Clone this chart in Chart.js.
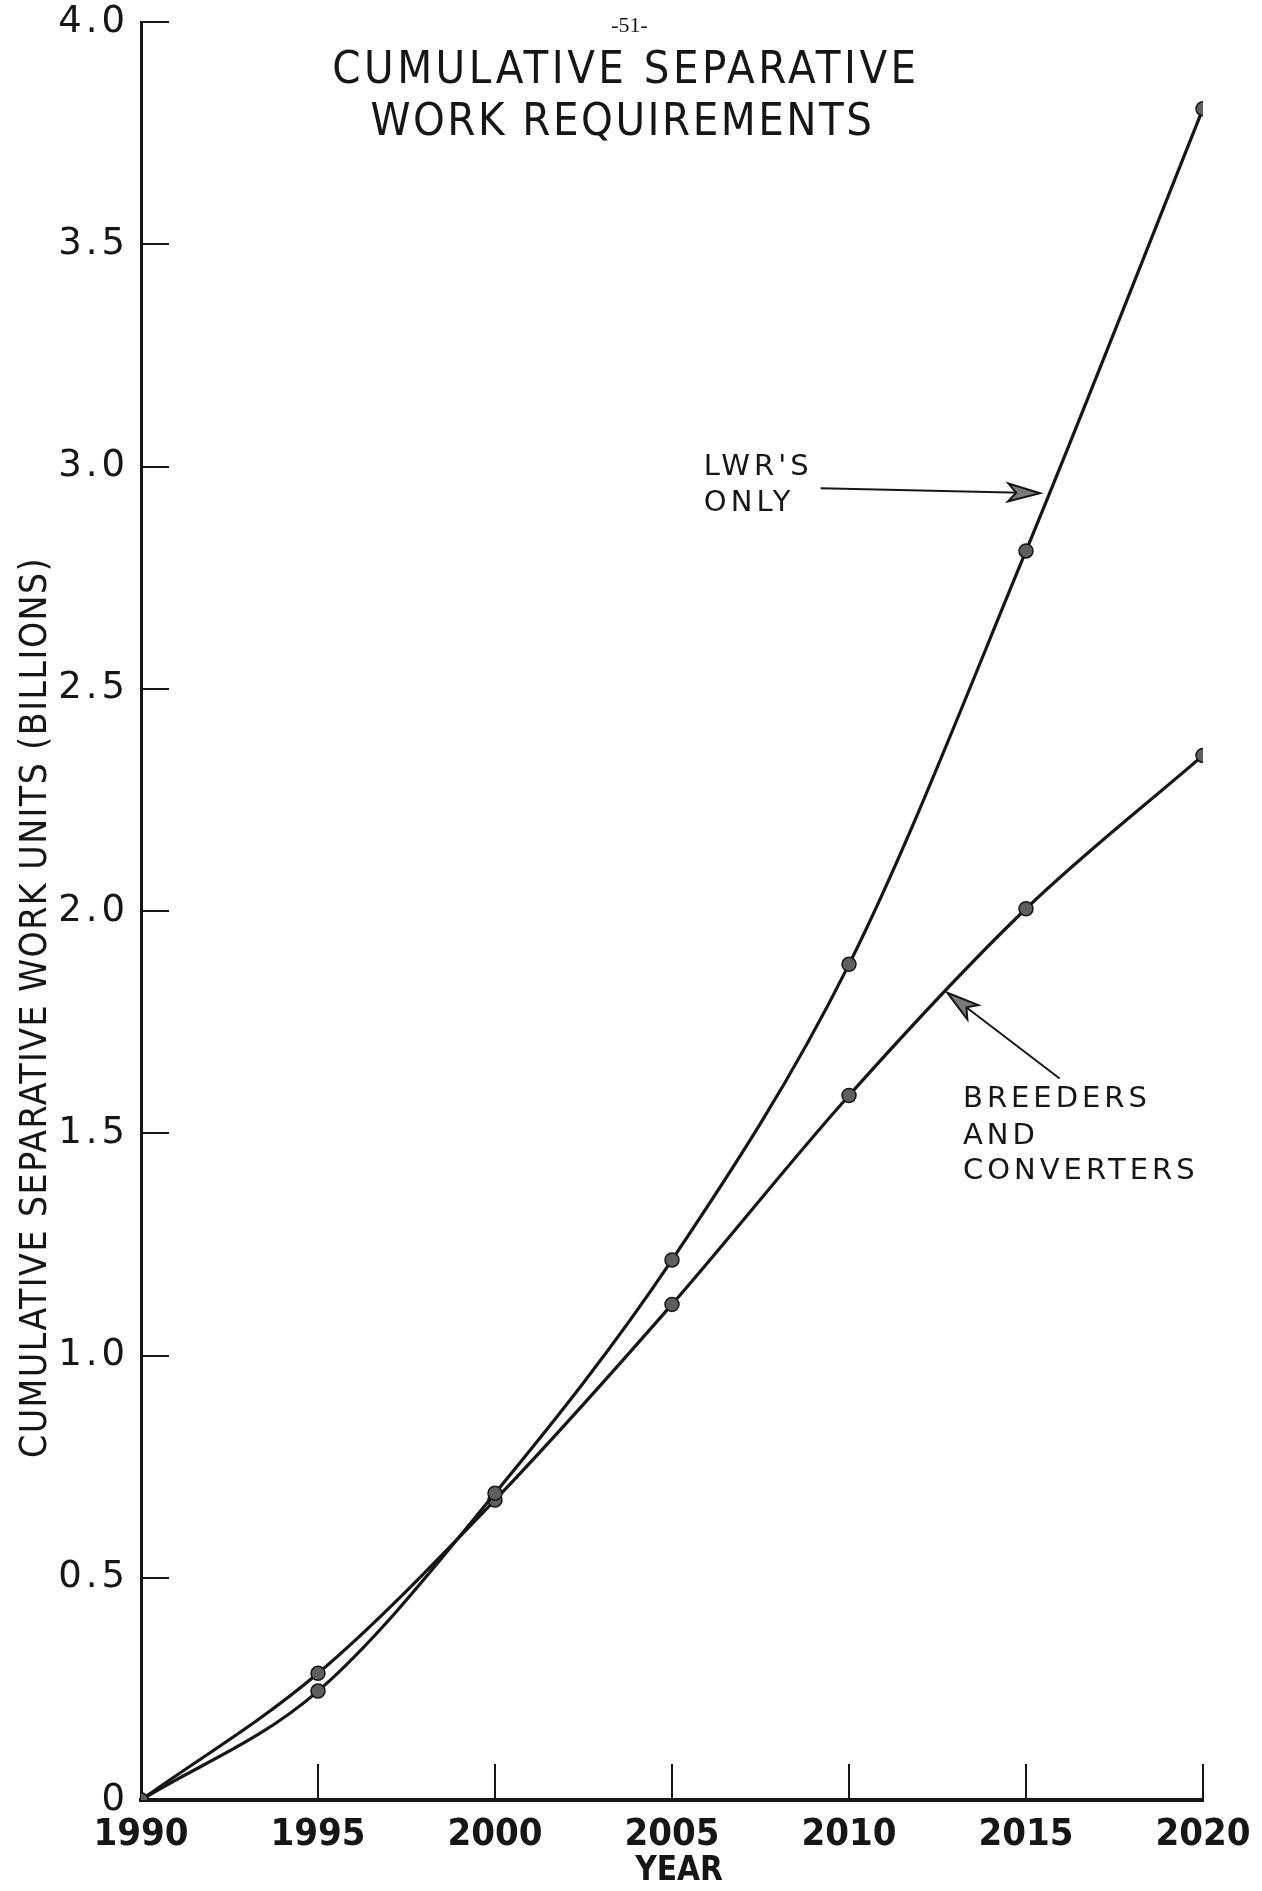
<!DOCTYPE html>
<html>
<head>
<meta charset="utf-8">
<title>Cumulative Separative Work Requirements</title>
<script src="https://cdn.jsdelivr.net/npm/chart.js@4.4.1/dist/chart.umd.min.js"></script>
<style>
  html, body { margin: 0; padding: 0; background: #fff; }
  canvas { display: block; }
</style>
</head>
<body>
<canvas id="swuChart" width="1262" height="1891"></canvas>
<script>
// values (billions of SWU)
var years = [1990, 1995, 2000, 2005, 2010, 2015, 2020];
var lwrOnly = [0, 0.245, 0.69, 1.215, 1.88, 2.81, 3.805];
var breedersAndConverters = [0, 0.285, 0.675, 1.115, 1.585, 2.005, 2.35];

var yearTicks = [1990, 1995, 2000, 2005, 2010, 2015, 2020];
var swuTicks = [0, 0.5, 1.0, 1.5, 2.0, 2.5, 3.0, 3.5, 4.0];

var pageNumber = "-51-";
var titleLines = ["CUMULATIVE SEPARATIVE", "WORK REQUIREMENTS"];
var yAxisTitle = "CUMULATIVE SEPARATIVE WORK UNITS (BILLIONS)";
var xAxisTitle = "YEAR";
var lwrLabel = ["LWR'S", "ONLY"];
var breederLabel = ["BREEDERS", "AND", "CONVERTERS"];

(function () {
  var ink = "#161616";
  var narrow = '"DejaVu Sans Condensed", "Liberation Sans Narrow", sans-serif';
  var lettering = '"DejaVu Sans", "Liberation Sans", sans-serif';

  function toPoints(values) {
    return years.map(function (yr, i) {
      return { x: yr, y: values[i] };
    });
  }

  function fixedTicks(list) {
    return function (scale) {
      scale.ticks = list.map(function (v) {
        return { value: v };
      });
    };
  }

  function setSpacing(ctx, v) {
    if ("letterSpacing" in ctx) ctx.letterSpacing = v;
  }

  // y tick labels are spaced like stencil lettering; x tick labels are drawn later (z: 1)
  var spacingPlugin = {
    id: "spacing",
    beforeDraw: function (chart) { setSpacing(chart.ctx, "4px"); },
    beforeDatasetsDraw: function (chart) { setSpacing(chart.ctx, "0px"); },
  };

  // hand lettering, arrows and titles placed in data coordinates
  var notesPlugin = {
    id: "notes",
    afterDraw: function (chart) {
      var ctx = chart.ctx;
      var xs = chart.scales.x;
      var ys = chart.scales.y;
      var area = chart.chartArea;
      function px(v) { return xs.getPixelForValue(v); }
      function py(v) { return ys.getPixelForValue(v); }

      function arrow(x1, y1, x2, y2) {
        var a = Math.atan2(y2 - y1, x2 - x1);
        var len = 32, w = 9;
        ctx.beginPath();
        ctx.moveTo(x1, y1);
        ctx.lineTo(x2 - len * 0.6 * Math.cos(a), y2 - len * 0.6 * Math.sin(a));
        ctx.stroke();
        ctx.beginPath();
        ctx.moveTo(x2, y2);
        ctx.lineTo(x2 - len * Math.cos(a) + w * Math.sin(a), y2 - len * Math.sin(a) - w * Math.cos(a));
        ctx.lineTo(x2 - len * 0.75 * Math.cos(a), y2 - len * 0.75 * Math.sin(a));
        ctx.lineTo(x2 - len * Math.cos(a) - w * Math.sin(a), y2 - len * Math.sin(a) + w * Math.cos(a));
        ctx.closePath();
        ctx.fillStyle = "#7a7a7a";
        ctx.fill();
        ctx.stroke();
      }

      ctx.save();
      ctx.fillStyle = ink;
      ctx.strokeStyle = ink;
      ctx.textBaseline = "middle";
      setSpacing(ctx, "0px");

      // page number
      ctx.textAlign = "center";
      ctx.font = '22px "Liberation Serif", serif';
      ctx.fillText(pageNumber, px(2003.8), py(3.99));

      // title
      ctx.font = "45px " + narrow;
      setSpacing(ctx, "3.5px");
      ctx.fillText(titleLines[0], px(2003.7), py(3.889));
      setSpacing(ctx, "2.5px");
      ctx.fillText(titleLines[1], px(2003.6), py(3.772));

      // x axis title
      ctx.font = "bold 33px " + narrow;
      setSpacing(ctx, "0px");
      ctx.fillText(xAxisTitle, px(2005.2), area.bottom + 71);

      // y axis title, rotated
      ctx.save();
      ctx.translate(area.left - 105, py(1.783));
      ctx.rotate(-Math.PI / 2);
      ctx.font = "37px " + narrow;
      setSpacing(ctx, "1.5px");
      ctx.fillStyle = ink;
      ctx.fillText(yAxisTitle, 0, 0);
      ctx.restore();

      // curve labels
      ctx.textAlign = "left";
      ctx.font = "29px " + lettering;
      setSpacing(ctx, "4px");
      ctx.fillText(lwrLabel[0], px(2005.9), py(2.997));
      ctx.fillText(lwrLabel[1], px(2005.9), py(2.916));
      ctx.fillText(breederLabel[0], px(2013.22), py(1.575));
      ctx.fillText(breederLabel[1], px(2013.22), py(1.493));
      ctx.fillText(breederLabel[2], px(2013.22), py(1.415));
      setSpacing(ctx, "0px");

      ctx.lineWidth = 2;
      arrow(px(2009.2), py(2.951), px(2015.4), py(2.94));
      arrow(px(2015.95), py(1.623), px(2012.78), py(1.816));

      ctx.restore();
    },
  };

  function initChart() {
    var el = document.getElementById("swuChart");
    var seriesStyle = {
      borderColor: ink,
      borderWidth: 3.2,
      pointRadius: 7,
      pointBackgroundColor: "#5e5e5e",
      pointBorderColor: ink,
      pointBorderWidth: 1.5,
      cubicInterpolationMode: "monotone",
      fill: false,
    };

    new Chart(el, {
      type: "line",
      data: {
        datasets: [
          Object.assign({ label: "LWR's only", data: toPoints(lwrOnly) }, seriesStyle),
          Object.assign({ label: "Breeders and converters", data: toPoints(breedersAndConverters) }, seriesStyle),
        ],
      },
      options: {
        responsive: false,
        devicePixelRatio: 1,
        animation: false,
        layout: { padding: { left: 0, right: 59, top: 22, bottom: 0 } },
        plugins: {
          legend: { display: false },
          tooltip: { enabled: false },
        },
        scales: {
          x: {
            type: "linear",
            min: 1990,
            max: 2020,
            afterBuildTicks: fixedTicks(yearTicks),
            afterFit: function (s) {
              s.height = 91;
              s.paddingLeft = s.paddingRight = s.paddingTop = s.paddingBottom = 0;
            },
            border: { display: true, color: ink, width: 4 },
            grid: { drawOnChartArea: false, drawTicks: true, tickLength: -36, color: ink, lineWidth: 2 },
            ticks: {
              z: 1,
              color: ink,
              padding: 48,
              maxRotation: 0,
              autoSkip: false,
              font: { family: narrow, size: 38, weight: "bold" },
              callback: function (v) { return String(v); },
            },
            title: { display: false },
          },
          y: {
            type: "linear",
            min: 0,
            max: 4,
            afterBuildTicks: fixedTicks(swuTicks),
            afterFit: function (s) {
              s.width = 141;
              s.paddingLeft = s.paddingRight = s.paddingTop = s.paddingBottom = 0;
            },
            border: { display: true, color: ink, width: 3 },
            grid: { drawOnChartArea: false, drawTicks: true, tickLength: -28, color: ink, lineWidth: 2 },
            ticks: {
              color: ink,
              padding: 40,
              autoSkip: false,
              font: { family: lettering, size: 37 },
              callback: function (v) { return v === 0 ? "0" : v.toFixed(1); },
            },
          },
        },
      },
      plugins: [spacingPlugin, notesPlugin],
    });
  }

  if (document.readyState === "loading") {
    document.addEventListener("DOMContentLoaded", initChart);
  } else {
    initChart();
  }
})();
</script>
</body>
</html>
